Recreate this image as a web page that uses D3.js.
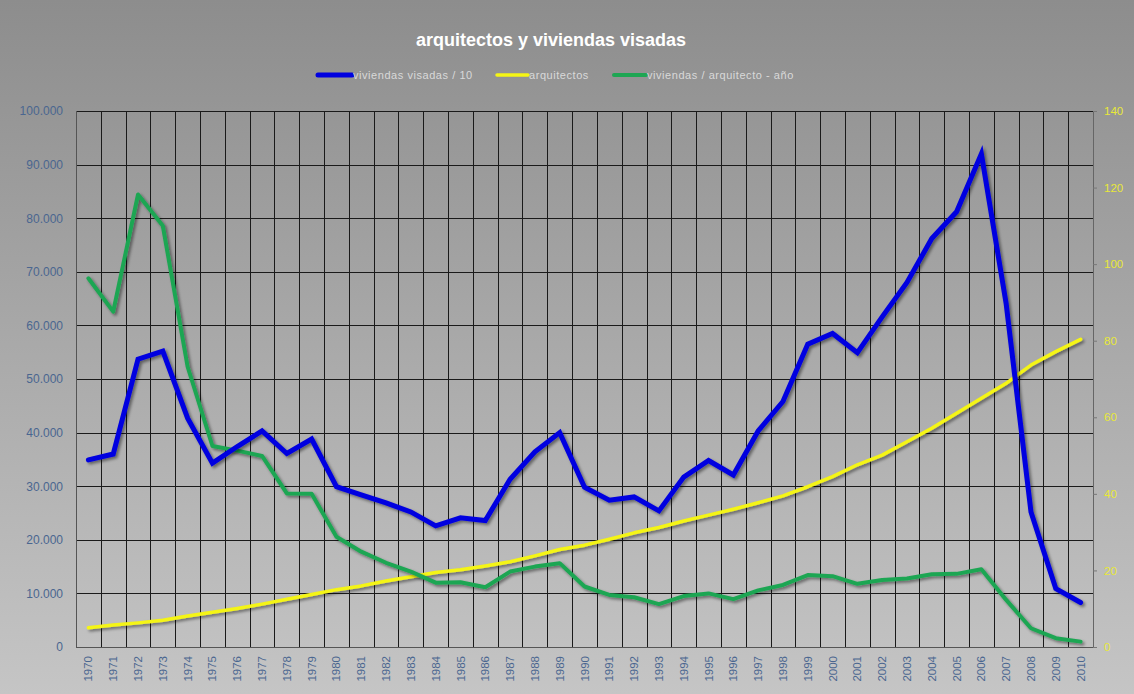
<!DOCTYPE html>
<html><head><meta charset="utf-8">
<script src="https://cdn.jsdelivr.net/npm/d3@7"></script>
<style>
body{margin:0;background:#a0a0a0;}
svg{display:block;font-family:Arial,"Liberation Sans",sans-serif;}
</style>
</head><body>
<svg id="c" width="1134" height="694"></svg>
<script>
const years = ["1970","1971","1972","1973","1974","1975","1976","1977","1978","1979",
  "1980","1981","1982","1983","1984","1985","1986","1987","1988","1989",
  "1990","1991","1992","1993","1994","1995","1996","1997","1998","1999",
  "2000","2001","2002","2003","2004","2005","2006","2007","2008","2009","2010"];
// viviendas visadas / 10 (left axis)
const viviendas = [34900,36000,53700,55200,42700,34300,37400,40300,36100,38800,
  29900,28400,26900,25200,22600,24100,23600,31300,36400,40000,
  29800,27400,28000,25400,31700,34800,32100,40300,45800,56500,
  58500,54900,61600,68000,76200,81200,92000,64000,25200,10900,8300];
// arquitectos (left axis)
const arquitectos = [3600,4100,4500,5000,5800,6500,7200,8000,8900,9800,
  10700,11400,12300,13100,13900,14400,15100,15900,17000,18200,
  19000,20100,21300,22300,23500,24600,25700,26900,28200,29900,
  31800,34000,35800,38300,40800,43600,46400,49200,52600,55100,57400];
// viviendas / arquitecto - año (right axis)
const ratio = [96.3,87.6,118.2,110.0,73.2,52.5,51.3,49.9,40.1,40.0,
  28.8,24.9,22.0,19.7,16.8,16.9,15.6,19.7,21.0,21.9,
  15.8,13.6,13.0,11.2,13.3,14.0,12.5,14.8,16.2,18.8,
  18.5,16.5,17.5,17.9,19.0,19.1,20.3,12.3,4.9,2.3,1.4];
const leftTicks = [0,10000,20000,30000,40000,50000,60000,70000,80000,90000,100000];
const rightTicks = [0,20,40,60,80,100,120,140];
const seriesNames = ["viviendas visadas / 10","arquitectos","viviendas / arquitecto - año"];
const titleText = "arquitectos y viviendas visadas";

const W = 1134, H = 694;
const m = {left:76, right:1093, top:111, bottom:647};
const svg = d3.select("#c");
const defs = svg.append("defs");
const grad = defs.append("linearGradient").attr("id","bg").attr("x1",0).attr("y1",0).attr("x2",0).attr("y2",1);
grad.append("stop").attr("offset","0%").attr("stop-color","#8d8d8d");
grad.append("stop").attr("offset","55%").attr("stop-color","#acacac");
grad.append("stop").attr("offset","100%").attr("stop-color","#c5c5c5");
const f = defs.append("filter").attr("id","sh").attr("x","-5%").attr("y","-5%").attr("width","110%").attr("height","110%");
f.append("feDropShadow").attr("dx",2).attr("dy",2).attr("stdDeviation",1.5).attr("flood-color","#000").attr("flood-opacity",0.45);

svg.append("rect").attr("width",W).attr("height",H).attr("fill","url(#bg)");

const fmt = d3.formatLocale({decimal:",",thousands:".",grouping:[3],currency:["",""]}).format(",");
const x = d3.scaleBand().domain(years).range([m.left,m.right]).padding(0);
const cx = d => x(d) + x.bandwidth()/2;
const yL = d3.scaleLinear().domain([0,100000]).range([m.bottom,m.top]);
const yR = d3.scaleLinear().domain([0,140]).range([m.bottom,m.top]);

// horizontal gridlines
svg.append("g").selectAll("line").data(leftTicks.slice(1)).join("line")
  .attr("x1",m.left).attr("x2",m.right)
  .attr("y1",d=>Math.round(yL(d))+0.5).attr("y2",d=>Math.round(yL(d))+0.5)
  .attr("stroke","#1a1a1a").attr("stroke-width",1);
// vertical gridlines at category boundaries
svg.append("g").selectAll("line").data(years.slice(1)).join("line")
  .attr("y1",m.top).attr("y2",m.bottom)
  .attr("x1",d=>Math.round(x(d))+0.5).attr("x2",d=>Math.round(x(d))+0.5)
  .attr("stroke","#1a1a1a").attr("stroke-width",1);
// frame lines
svg.append("line").attr("x1",m.left+0.5).attr("x2",m.left+0.5).attr("y1",m.top).attr("y2",m.bottom).attr("stroke","#555");
svg.append("line").attr("x1",m.right+0.5).attr("x2",m.right+0.5).attr("y1",m.top).attr("y2",m.bottom).attr("stroke","#666");
svg.append("line").attr("x1",m.left).attr("x2",m.right).attr("y1",m.bottom+0.5).attr("y2",m.bottom+0.5).attr("stroke","#555");

// left axis
const gl = svg.append("g").attr("transform",`translate(${m.left},0)`)
  .call(d3.axisLeft(yL).tickValues(leftTicks).tickFormat(fmt).tickSize(0).tickPadding(13));
gl.select(".domain").remove();
gl.selectAll("text").attr("fill","#4a6690").attr("font-size","12px").attr("font-family","Arial, 'Liberation Sans', sans-serif");

// right axis
const gr = svg.append("g").attr("transform",`translate(${m.right},0)`)
  .call(d3.axisRight(yR).tickValues(rightTicks).tickSize(4).tickPadding(7));
gr.select(".domain").remove();
gr.selectAll("line").attr("stroke","#777");
gr.selectAll("text").attr("fill","#e8e838").attr("font-size","11.5px").attr("font-family","Arial, 'Liberation Sans', sans-serif");

// bottom axis
const gb = svg.append("g").attr("transform",`translate(0,${m.bottom})`)
  .call(d3.axisBottom(x).tickSize(0).tickPadding(0));
gb.select(".domain").remove();
gb.selectAll("text").attr("fill","#4a6690").attr("font-size","11.5px")
  .attr("font-family","Arial, 'Liberation Sans', sans-serif")
  .attr("text-anchor","end").attr("dy","0.35em").attr("dx",0)
  .attr("transform","translate(0,9) rotate(-90)").attr("x",0).attr("y",0);

// lines
const lineL = d3.line().x((d,i)=>cx(years[i])).y(d=>yL(d));
const lineR = d3.line().x((d,i)=>cx(years[i])).y(d=>yR(d));
const colors = ["#0000e0","#f5f514","#1ea653"];
svg.append("path").datum(arquitectos).attr("d",lineL).attr("fill","none")
  .attr("stroke",colors[1]).attr("stroke-width",3.5).attr("stroke-linejoin","round").attr("stroke-linecap","round").attr("filter","url(#sh)");
svg.append("path").datum(ratio).attr("d",lineR).attr("fill","none")
  .attr("stroke",colors[2]).attr("stroke-width",4).attr("stroke-linejoin","round").attr("stroke-linecap","round").attr("filter","url(#sh)");
svg.append("path").datum(viviendas).attr("d",lineL).attr("fill","none")
  .attr("stroke",colors[0]).attr("stroke-width",5).attr("stroke-linejoin","miter").attr("stroke-linecap","round").attr("filter","url(#sh)");

// title
svg.append("text").attr("x",551).attr("y",46).attr("text-anchor","middle")
  .attr("fill","#ffffff").attr("font-size","18px").attr("font-weight","bold").text(titleText);

// legend
const legX = [[318,352],[497,528],[614,646]];
const legW = [5,3.5,4];
const leg = svg.append("g");
seriesNames.forEach((n,i)=>{
  leg.append("line").attr("x1",legX[i][0]).attr("x2",legX[i][1]).attr("y1",75).attr("y2",75)
    .attr("stroke",colors[i]).attr("stroke-width",legW[i]).attr("stroke-linecap","round");
  leg.append("text").attr("x",legX[i][1]+1).attr("y",79).attr("fill","#d9d9d9")
    .attr("font-size","11px").attr("letter-spacing","0.55px").text(n);
});
</script>
</body></html>
